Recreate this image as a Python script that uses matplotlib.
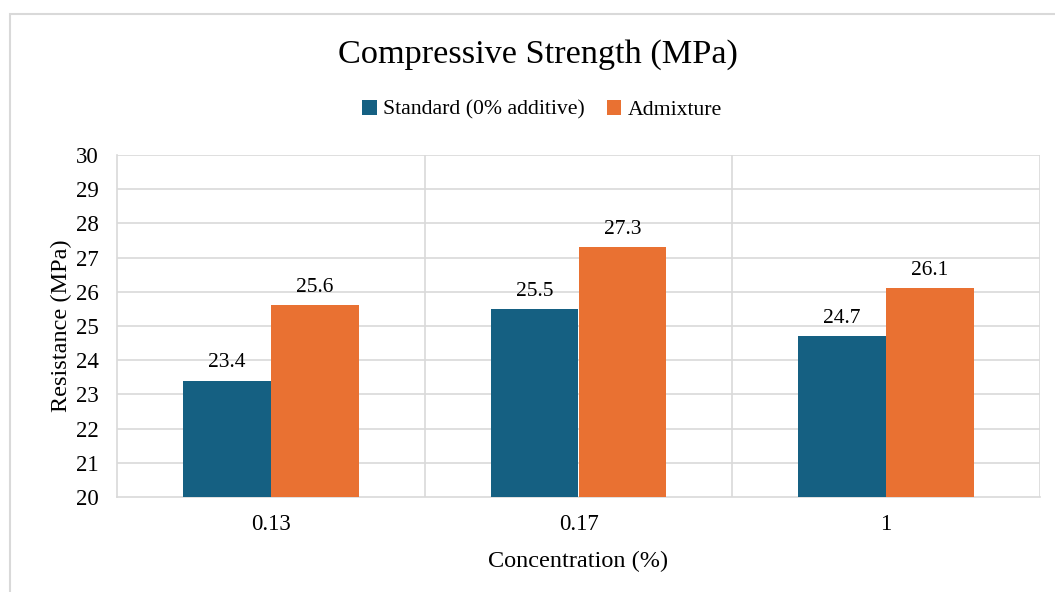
import matplotlib.pyplot as plt
import matplotlib.patches as mpatches
import numpy as np

# Data
concentrations = ['0.13', '0.17', '1']
standard = [23.4, 25.5, 24.7]
admixture = [25.6, 27.3, 26.1]
series_names = ['Standard (0% additive)', 'Admixture']

blue = '#156082'
orange = '#E97132'
grid_col = '#D9D9D9'

plt.rcParams['font.family'] = ['Liberation Serif', 'DejaVu Serif']

fig = plt.figure(figsize=(10.55, 5.92), dpi=100)
ax = fig.add_axes([117/1055, 1 - 497/592, (1040 - 117)/1055, (497 - 155)/592])

# outer chart frame (runs off the right/bottom of the picture)
frame = mpatches.Rectangle((10/1055, -0.1), 1.2, 1 - 14/592 + 0.1,
                           transform=fig.transFigure, fill=False,
                           edgecolor='#D9D9D9', linewidth=1.5, zorder=0)
fig.patches.append(frame)

x = np.arange(len(concentrations))
w = 88/308

b1 = ax.bar(x - w/2, standard, w, color=blue, label=series_names[0], zorder=3)
b2 = ax.bar(x + w/2, admixture, w, color=orange, label=series_names[1], zorder=3)

for bars in (b1, b2):
    for r in bars:
        ax.annotate(f'{r.get_height():.1f}', (r.get_x() + r.get_width()/2, r.get_height()),
                    xytext=(0, 6), textcoords='offset points',
                    ha='center', va='bottom', fontsize=15.5)

ax.set_ylim(20, 30)
ax.set_yticks(range(20, 31))
ax.set_xlim(-0.5, len(concentrations) - 0.5)
ax.set_xticks(x)
ax.set_xticklabels(concentrations)
ax.tick_params(axis='y', length=0, labelsize=16.5, pad=13)
ax.tick_params(axis='x', length=0, labelsize=16.5, pad=12)

# gridlines: horizontal at each integer, vertical between categories
for yv in range(21, 31):
    ax.axhline(yv, color=grid_col, linewidth=1.2, zorder=1)
for xv in [0.5, 1.5, 2.5]:
    ax.axvline(xv, color=grid_col, linewidth=1.2, zorder=1)

for s in ['top', 'right']:
    ax.spines[s].set_visible(False)
for s in ['left', 'bottom']:
    ax.spines[s].set_color(grid_col)
    ax.spines[s].set_linewidth(1.2)

ax.set_ylabel('Resistance (MPa)', fontsize=17.5, labelpad=3)
ax.set_xlabel('Concentration (%)', fontsize=17.5, labelpad=12)

fig.text(538/1055, 1 - 55/592, 'Compressive Strength (MPa)', ha='center', va='center', fontsize=24.7)
fig.legend(loc='center', bbox_to_anchor=(542/1055, 1 - 110/592), ncol=2, frameon=False,
           fontsize=15.7, handlelength=0.65, handleheight=0.65, handletextpad=0.3, columnspacing=1.0)

fig.savefig('out.png', dpi=100)
